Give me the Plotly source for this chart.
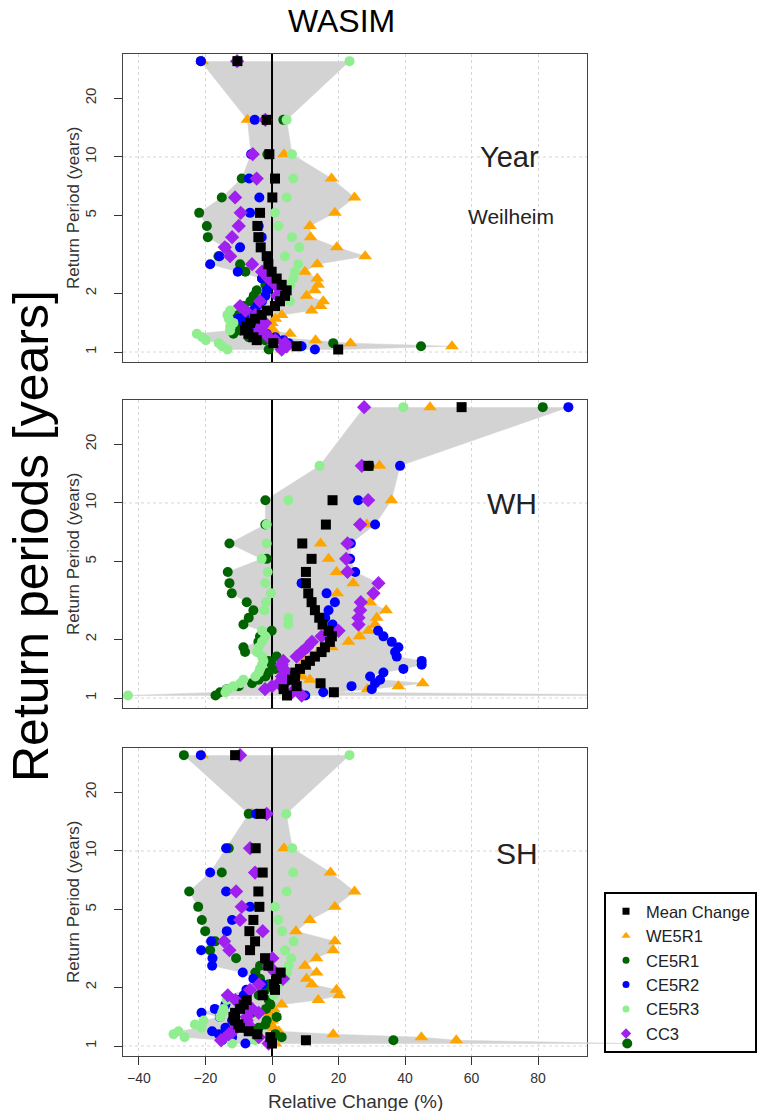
import plotly.graph_objects as go

W, H = 769, 1111

# Return periods (years), Weibull plotting positions for 30 years of data
return_period = [31.0, 15.5, 10.33, 7.75, 6.2, 5.17, 4.43, 3.88, 3.44, 3.1,
                 2.82, 2.58, 2.38, 2.21, 2.07, 1.94, 1.82, 1.72, 1.63, 1.55,
                 1.48, 1.41, 1.35, 1.29, 1.24, 1.19, 1.15, 1.11, 1.07, 1.03]

series_names = ["Mean Change", "WE5R1", "CE5R1", "CE5R2", "CE5R3", "CC3"]
panel_labels = ["Year", "WH", "SH"]

# ---- Panel 1 : Year ----
year_mean = [-10.4, -1.6, -0.8, 0.9, 0.1, -3.6, -4.4, -4.1, -3.4, -1.6, -1.1, -0.1, 1.4, 2.9, 4.4,
             3.9, 2.4, 0.9, -1.6, -3.1, -5.1, -6.6, -7.6, -8.1, -7.1, -5.6, -4.6, 0.4, 7.4, 19.9]
year_we5r1 = [-21.0, -7.4, 3.6, 17.9, 24.8, 18.9, 11.4, 11.6, 19.5, 28.0, 13.6, 9.9, 13.6, 13.9, 12.9,
              10.4, 15.4, 14.6, 11.9, 2.9, 1.0, 0.0, -1.0, 0.5, 5.4, 1.0, 13.1, 23.6, 54.1, 3.0]
year_ce5r1 = [-21.4, 3.4, -1.4, -9.1, -15.1, -21.9, -19.6, -19.3, -14.0, -16.1, -9.6, -8.0, -3.0, -2.0, -4.6,
              -5.5, -6.5, -8.5, -9.0, -10.0, -12.0, -10.5, -9.0, -9.6, -11.6, -7.0, -2.1, 18.4, 44.8, -1.0]
year_ce5r2 = [-21.4, -5.2, -6.3, -6.9, -3.8, -6.6, -4.0, -3.1, -9.6, -15.8, -18.6, -10.3, -3.0, -0.5, -1.5,
              -2.0, -3.0, -4.5, -5.6, -8.0, -10.1, -8.5, -6.0, -4.0, -1.6, 1.0, 3.4, 5.0, 8.9, 12.9]
year_ce5r3 = [23.3, 4.4, 6.0, 6.4, 4.4, 0.9, 1.9, 6.0, 8.2, 3.9, 7.9, 6.9, 6.4, 5.5, 4.0,
              3.0, 5.4, 1.0, -12.6, -13.4, -13.0, -11.6, -12.6, -12.6, -22.6, -21.0, -19.9, -16.0, -15.0, -13.4]
year_cc3 = [-10.5, -2.0, -5.8, -4.6, -11.1, -9.4, -10.0, -12.0, -14.2, -12.6, -6.0, -3.0, -1.0, 1.0, 2.9,
            1.5, -3.6, -9.6, -8.0, -5.0, -3.5, -2.1, -3.0, -4.0, -2.0, -1.0, 1.0, 3.9, 4.4, 2.9]

# ---- Panel 2 : WH ----
wh_mean = [57.0, 29.0, 18.2, 16.2, 9.1, 11.9, 10.2, 10.2, 10.9, 11.9, 12.9, 14.2, 15.2, 17.0, 18.0,
           17.4, 15.9, 14.9, 12.9, 11.4, 10.2, 8.4, 7.0, 6.9, 6.0, 14.6, 7.4, 3.5, 18.6, 4.5]
wh_we5r1 = [47.5, 32.3, 35.9, 28.5, 14.6, 17.0, 19.4, 24.4, 19.6, 29.5, 34.3, 31.5, 31.0, 29.0, 26.3,
            23.0, 18.0, 14.0, 12.0, 10.0, 9.0, 8.0, 7.0, 9.0, 11.4, 45.3, 38.0, 28.7, 8.0, 130.0]
wh_ce5r1 = [81.4, 29.3, -2.0, -2.0, -12.8, -1.6, -13.3, -12.8, -12.1, -7.6, -5.6, -7.0, -8.6, -0.1, -3.6,
            -4.1, -8.6, -8.1, 1.4, -1.0, 0.0, 1.0, -1.0, -2.0, -4.0, -6.0, -10.0, -13.6, -15.6, -17.0]
wh_ce5r2 = [89.1, 38.5, 25.9, 31.0, 23.7, 23.5, 25.0, 8.9, 16.4, 18.9, 17.0, 16.0, 18.2, 31.9, 33.5,
            36.0, 38.0, 37.0, 37.5, 45.0, 45.0, 39.5, 33.5, 29.5, 32.5, 31.0, 23.9, 30.0, 15.4, 10.0]
wh_ce5r3 = [39.5, 14.3, 4.9, -1.6, -1.6, -3.1, -1.3, -2.0, -0.3, -1.8, -2.3, 4.9, 4.9, -3.0, -2.0,
            -3.0, -4.0, -4.5, -3.0, -2.6, -3.0, -3.6, -4.0, -5.0, -8.6, -9.5, -11.6, -13.5, -14.0, -43.3]
wh_cc3 = [27.7, 27.0, 28.9, 26.5, 22.7, 22.3, 22.7, 32.0, 30.5, 26.7, 26.5, 26.0, 26.0, 20.0, 14.9,
          12.0, 10.5, 8.9, 7.4, 3.4, 2.9, 3.5, 4.0, 3.0, 5.0, 2.0, 0.0, -2.1, 6.0, 8.9]

# ---- Panel 3 : SH ----
sh_mean = [-11.1, -3.4, -4.9, -2.8, -4.1, -3.8, -5.6, -6.8, -5.1, -6.6, -2.1, -1.1, 2.6, 1.4, 0.6,
           0.9, -2.8, -7.6, -8.5, -9.6, -11.1, -11.6, -11.1, -10.1, -9.6, -7.0, -4.4, -0.5, 10.2, 0.0]
sh_we5r1 = [-21.0, -6.0, 3.6, 17.6, 24.8, 18.9, 11.4, 7.2, 18.9, 18.4, 13.4, 9.9, 13.4, 10.4, 12.0,
            19.4, 20.2, 13.9, 2.9, 0.5, -1.0, 1.0, 0.0, -1.0, 0.5, 2.0, 18.4, 44.9, 55.4, 1.0]
sh_ce5r1 = [-26.5, -7.0, -13.0, -15.1, -24.9, -22.2, -21.1, -20.1, -17.1, -18.6, -10.8, -3.6, -5.0, -3.6, -1.0,
            -2.0, -4.0, -1.0, -0.5, -1.8, -6.1, 1.4, -1.6, -2.0, -4.0, -6.0, 1.0, 2.9, 36.5, 106.8]
sh_ce5r2 = [-21.4, -4.8, -13.8, -18.6, -13.8, -6.6, -12.0, -13.6, -18.3, -21.3, -17.9, -18.0, -8.8, -5.6, -2.9,
            -7.7, -8.5, -10.0, -14.0, -17.2, -21.2, -15.7, -12.0, -10.0, -14.0, -18.0, -16.0, -12.0, -15.0, -8.0]
sh_ce5r3 = [23.3, 4.3, 6.1, 6.4, 4.4, 0.9, 1.9, 3.0, 6.5, 3.9, 5.8, 5.0, 4.5, 4.0, 2.0,
            1.0, 0.5, -13.6, -10.0, -14.6, -15.0, -15.6, -20.6, -23.2, -21.2, -28.1, -29.6, -26.3, -5.1, -12.0]
sh_cc3 = [-9.6, -1.6, -6.6, -5.1, -10.8, -9.1, -9.6, -2.8, -14.4, -12.8, 0.1, -1.0, 1.0, 3.3, -3.9,
          -6.6, -13.3, -11.0, -8.0, -6.0, -4.0, -7.6, -7.6, -7.2, -8.0, -11.8, -13.0, -4.0, -15.3, -1.0]

panels = [
    {"Mean Change": year_mean, "WE5R1": year_we5r1, "CE5R1": year_ce5r1,
     "CE5R2": year_ce5r2, "CE5R3": year_ce5r3, "CC3": year_cc3},
    {"Mean Change": wh_mean, "WE5R1": wh_we5r1, "CE5R1": wh_ce5r1,
     "CE5R2": wh_ce5r2, "CE5R3": wh_ce5r3, "CC3": wh_cc3},
    {"Mean Change": sh_mean, "WE5R1": sh_we5r1, "CE5R1": sh_ce5r1,
     "CE5R2": sh_ce5r2, "CE5R3": sh_ce5r3, "CC3": sh_cc3},
]

style = {
    "Mean Change": dict(symbol="square", color="black", size=10, lsize=7, rank=1),
    "WE5R1": dict(symbol="triangle-up", color="#FFA500", size=12, lsize=8, rank=2),
    "CE5R1": dict(symbol="circle", color="#006400", size=10, lsize=7, rank=3),
    "CE5R2": dict(symbol="circle", color="#0000FF", size=10, lsize=7, rank=4),
    "CE5R3": dict(symbol="circle", color="#90EE90", size=10, lsize=7, rank=5),
    "CC3": dict(symbol="diamond", color="#A020F0", size=11, lsize=8, rank=6),
}
draw_order = ["WE5R1", "CE5R1", "CE5R2", "CE5R3", "CC3", "Mean Change"]

FONT = "Liberation Sans, Arial, Helvetica, sans-serif"
PLOT_L, PLOT_R = 123, 587
x_dom = [PLOT_L / W, PLOT_R / W]
panel_px = [(54, 362), (400, 708), (748, 1056)]
y_range = [-0.0513, 1.528]
x_range = [-44.8, 94.7]
# the bottom panel's data layer runs past the frame (as in the original figure)
px_per_unit = (PLOT_R - PLOT_L) / (x_range[1] - x_range[0])
x_range_ext = [x_range[0], x_range[0] + (W - PLOT_L) / px_per_unit]
GRID = "#d6d6d6"

fig = go.Figure()

for i, data in enumerate(panels):
    frame_x = ["x", "x2", "x3"][i]
    xa = "x" if i == 0 else ("x2" if i == 1 else "x4")
    ya = "y" if i == 0 else f"y{i + 1}"
    # dotted horizontal grid at 1 and 10 years (on the framed axes)
    for g in (1, 10):
        fig.add_trace(go.Scatter(x=x_range, y=[g, g], mode="lines",
                                 line=dict(color=GRID, width=1, dash="dot"),
                                 hoverinfo="skip", showlegend=False,
                                 xaxis=frame_x, yaxis=ya))
    cols = list(zip(*data.values()))
    mx = [max(c) for c in cols]
    mn = [min(c) for c in cols]
    fig.add_trace(go.Scatter(x=mx + mn[::-1], y=return_period + return_period[::-1],
                             fill="toself", fillcolor="#d3d3d3", mode="lines",
                             line=dict(width=0.5, color="#d3d3d3"), hoverinfo="skip",
                             showlegend=False, xaxis=xa, yaxis=ya))
    fig.add_trace(go.Scatter(x=[0, 0], y=[0.5, 60], mode="lines",
                             line=dict(color="black", width=2), hoverinfo="skip",
                             showlegend=False, xaxis=xa, yaxis=ya))
    for name in draw_order:
        s = style[name]
        fig.add_trace(go.Scatter(
            x=data[name], y=return_period, mode="markers", name=name,
            marker=dict(symbol=s["symbol"], color=s["color"], size=s["size"],
                        line=dict(width=0)),
            legendgroup=name, showlegend=False,
            xaxis=xa, yaxis=ya))

# legend entries (small symbols, like the original key)
for name in series_names:
    s = style[name]
    fig.add_trace(go.Scatter(
        x=[None], y=[None], mode="markers", name=name, legendgroup=name,
        marker=dict(symbol=s["symbol"], color=s["color"], size=s["lsize"], line=dict(width=0)),
        legendrank=s["rank"], showlegend=True, xaxis="x", yaxis="y"))

layout = dict(
    width=W, height=H, paper_bgcolor="white", plot_bgcolor="rgba(0,0,0,0)",
    margin=dict(l=0, r=0, t=0, b=0, autoexpand=False),
    font=dict(family=FONT, color="#222"),
    legend=dict(x=604 / W, y=1 - 892 / H, xanchor="left", yanchor="top",
                bordercolor="black", borderwidth=2, bgcolor="rgba(0,0,0,0)",
                font=dict(size=16.5, family=FONT, color="#222"),
                itemsizing="trace", tracegroupgap=0, itemwidth=30),
)

for i, (top, bot) in enumerate(panel_px):
    sfx = "" if i == 0 else str(i + 1)
    last = (i == 2)
    layout["xaxis" + sfx] = dict(
        domain=x_dom, range=x_range, anchor="y" + sfx,
        tickvals=[-40, -20, 0, 20, 40, 60, 80],
        showticklabels=last, ticks="outside" if last else "", ticklen=8, tickcolor="#333",
        ticklabelstandoff=1, tickfont=dict(size=14, color="#333"),
        showgrid=True, gridcolor=GRID, griddash="dot", gridwidth=1,
        showline=True, mirror=True, linecolor="#444", linewidth=1, zeroline=False)
    layout["yaxis" + sfx] = dict(
        type="log", range=y_range, domain=[1 - bot / H, 1 - top / H], anchor="x" + sfx,
        tickvals=[1, 2, 5, 10, 20], ticktext=["1", "2", "5", "10", "20"],
        ticks="outside", ticklen=8, tickcolor="#333", tickangle=-90,
        ticklabelstandoff=12, tickfont=dict(size=15, color="#333"),
        showgrid=False, showline=True, mirror=True, linecolor="#444", linewidth=1,
        zeroline=False)

# hidden data axis for the bottom panel, same scale but extending to the page edge
layout["xaxis4"] = dict(domain=[PLOT_L / W, 1.0], range=x_range_ext, anchor="y3",
                        visible=False, showgrid=False, zeroline=False)

fig.update_layout(**layout)

def ann(text, px, py, size, angle=0, color="#222"):
    fig.add_annotation(text=text, x=px / W, y=1 - py / H, xref="paper", yref="paper",
                       xanchor="center", yanchor="middle", showarrow=False,
                       textangle=angle, font=dict(size=size, family=FONT, color=color))

ann("WASIM", 341, 21, 32, color="black")
ann("Return periods [years]", 31, 536, 50, angle=-90, color="black")
for top, bot in panel_px:
    ann("Return Period (years)", 73, (top + bot) / 2, 17, angle=-90, color="#333")
ann("Relative Change (%)", 355, 1101, 19, color="#333")
ann("Year", 509, 157, 29)
ann("Weilheim", 511, 217, 21)
ann("WH", 512, 503, 30)
ann("SH", 517, 853, 30)

fig.write_html("out.html")
